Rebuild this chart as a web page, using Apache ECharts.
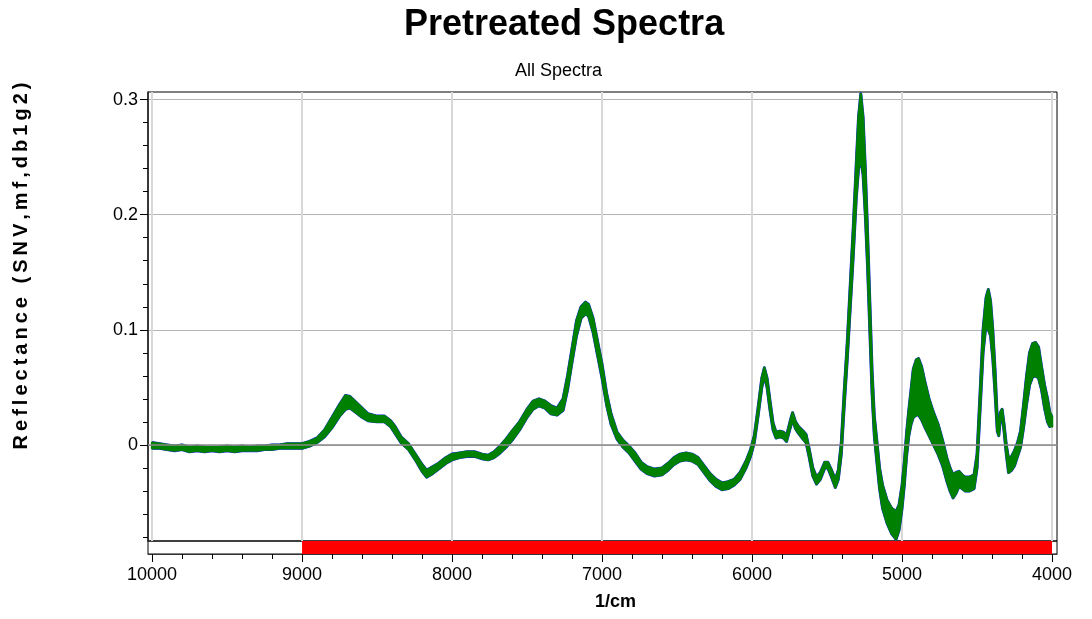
<!DOCTYPE html>
<html>
<head>
<meta charset="utf-8">
<script src="https://cdn.jsdelivr.net/npm/echarts@6/dist/echarts.min.js"></script>
<style>
html,body{margin:0;padding:0;background:#fff;}
#chart{width:1092px;height:619px;}
</style>
</head>
<body>
<div id="chart"></div>
<script>
// ---------- data ----------
const wavenumbers = [
  10000, 9950, 9900, 9850, 9800, 9750, 9700, 9650, 9600, 9550, 9500, 9450, 9400, 9350, 9300, 9250, 9200, 9150, 9100, 9050, 9000,
  8950, 8900, 8850, 8800, 8750, 8710, 8680, 8640, 8600, 8560, 8500, 8450, 8410, 8380, 8340, 8290, 8240, 8200, 8170, 8130, 8090, 8040, 8000,
  7950, 7900, 7850, 7800, 7760, 7720, 7680, 7640, 7600, 7550, 7500, 7460, 7420, 7380, 7340, 7300, 7260, 7230, 7200, 7170, 7140, 7110, 7090,
  7060, 7030, 7000, 6970, 6940, 6900, 6860, 6820, 6780, 6740, 6700, 6650, 6600, 6560, 6520, 6480, 6440, 6400, 6360, 6320, 6280, 6240, 6200,
  6160, 6120, 6080, 6040, 6010, 5985, 5960, 5935, 5918, 5900, 5880, 5860, 5840, 5815, 5790, 5770, 5745, 5730, 5710, 5690, 5660, 5640, 5620,
  5595, 5570, 5545, 5515, 5495, 5470, 5445, 5425, 5405, 5385, 5365, 5345, 5325, 5305, 5290, 5275, 5260, 5245, 5230, 5215, 5200, 5185, 5170,
  5150, 5130, 5100, 5070, 5040, 5020, 5000, 4985, 4970, 4955, 4940, 4925, 4905, 4890, 4870, 4850, 4820, 4790, 4760, 4730, 4700, 4680, 4660,
  4640, 4620, 4600, 4580, 4550, 4520, 4500, 4480, 4460, 4440, 4425, 4410, 4395, 4380, 4365, 4355, 4345, 4333, 4320, 4305, 4290, 4270, 4250,
  4230, 4210, 4190, 4170, 4150, 4130, 4110, 4090, 4070, 4050, 4030, 4015, 4008, 4000
];
const lowerSpectrum = [
  -0.003, -0.003, -0.004, -0.005, -0.004, -0.006, -0.005, -0.006, -0.005, -0.006, -0.005, -0.006, -0.005, -0.005, -0.005, -0.004, -0.004, -0.003, -0.003, -0.003, -0.003,
  -0.001, 0.002, 0.007, 0.015, 0.025, 0.031, 0.032, 0.028, 0.024, 0.021, 0.020, 0.020, 0.016, 0.010, 0.002, -0.004, -0.014, -0.023, -0.028, -0.025, -0.021, -0.016, -0.013,
  -0.011, -0.010, -0.010, -0.012, -0.013, -0.011, -0.007, -0.002, 0.004, 0.013, 0.024, 0.031, 0.034, 0.032, 0.027, 0.026, 0.030, 0.048, 0.072, 0.095, 0.110, 0.114, 0.112,
  0.098, 0.078, 0.058, 0.035, 0.018, 0.005, -0.002, -0.007, -0.014, -0.021, -0.025, -0.027, -0.026, -0.022, -0.017, -0.014, -0.013, -0.014, -0.017, -0.024, -0.031, -0.036, -0.039,
  -0.038, -0.035, -0.030, -0.020, -0.010, 0.002, 0.025, 0.050, 0.060, 0.050, 0.030, 0.013, 0.006, 0.007, 0.006, 0.003, 0.015, 0.022, 0.014, 0.010, 0.005, 0.002, -0.010,
  -0.027, -0.034, -0.030, -0.020, -0.020, -0.028, -0.037, -0.030, -0.008, 0.035, 0.075, 0.120, 0.165, 0.215, 0.240, 0.248, 0.235, 0.200, 0.155, 0.100, 0.045, 0.008, -0.012,
  -0.038, -0.055, -0.068, -0.077, -0.082, -0.074, -0.055, -0.035, -0.010, 0.008, 0.018, 0.024, 0.026, 0.026, 0.022, 0.016, 0.008, 0.000, -0.008, -0.018, -0.032, -0.040, -0.046,
  -0.042, -0.036, -0.038, -0.040, -0.040, -0.038, -0.020, 0.030, 0.080, 0.105, 0.100, 0.095, 0.075, 0.045, 0.012, 0.008, 0.022, 0.026, 0.012, -0.008, -0.024, -0.022, -0.018,
  -0.010, -0.002, 0.015, 0.035, 0.052, 0.059, 0.060, 0.058, 0.048, 0.032, 0.020, 0.016, 0.018, 0.016
];
const upperSpectrum = [
  0.002, 0.001, 0.000, -0.001, 0.000, -0.002, -0.001, -0.002, -0.002, -0.002, -0.001, -0.002, -0.001, -0.002, -0.001, -0.001, 0.000, 0.000, 0.001, 0.001, 0.001,
  0.003, 0.006, 0.013, 0.024, 0.035, 0.043, 0.042, 0.037, 0.032, 0.027, 0.025, 0.025, 0.021, 0.016, 0.007, 0.001, -0.009, -0.017, -0.022, -0.019, -0.016, -0.011, -0.008,
  -0.007, -0.006, -0.006, -0.008, -0.009, -0.006, -0.001, 0.005, 0.012, 0.020, 0.031, 0.038, 0.040, 0.038, 0.034, 0.032, 0.040, 0.060, 0.084, 0.108, 0.120, 0.124, 0.122,
  0.110, 0.090, 0.070, 0.045, 0.027, 0.011, 0.004, -0.001, -0.007, -0.015, -0.019, -0.021, -0.020, -0.016, -0.011, -0.008, -0.007, -0.008, -0.011, -0.018, -0.025, -0.030, -0.033,
  -0.032, -0.030, -0.024, -0.014, -0.004, 0.008, 0.032, 0.058, 0.067, 0.058, 0.038, 0.019, 0.011, 0.012, 0.011, 0.008, 0.021, 0.028, 0.020, 0.016, 0.012, 0.009, -0.003,
  -0.020, -0.028, -0.024, -0.015, -0.015, -0.022, -0.030, -0.022, 0.002, 0.048, 0.090, 0.140, 0.190, 0.245, 0.285, 0.305, 0.285, 0.240, 0.185, 0.125, 0.065, 0.025, 0.006,
  -0.020, -0.035, -0.048, -0.055, -0.058, -0.052, -0.035, -0.015, 0.010, 0.030, 0.048, 0.066, 0.074, 0.075, 0.068, 0.056, 0.040, 0.028, 0.018, 0.004, -0.012, -0.020, -0.026,
  -0.024, -0.023, -0.026, -0.028, -0.028, -0.026, -0.008, 0.045, 0.100, 0.128, 0.135, 0.125, 0.100, 0.065, 0.022, 0.014, 0.028, 0.031, 0.018, 0.000, -0.012, -0.010, -0.005,
  0.002, 0.012, 0.035, 0.060, 0.080, 0.088, 0.089, 0.085, 0.068, 0.052, 0.040, 0.028, 0.027, 0.024
];
const xMajorTicks = [4000, 5000, 6000, 7000, 8000, 9000, 10000];
const xMinorTicks = [4200, 4400, 4600, 4800, 5200, 5400, 5600, 5800, 6200, 6400, 6600, 6800, 7200, 7400, 7600, 7800, 8200, 8400, 8600, 8800, 9200, 9400, 9600, 9800];
const yMajorTicks = [0, 0.1, 0.2, 0.3];
const yMinorTicks = [-0.08, -0.06, -0.04, -0.02, 0.02, 0.04, 0.06, 0.08, 0.12, 0.14, 0.16, 0.18, 0.22, 0.24, 0.26, 0.28];
const selectedRange = [9000, 4000];   // red bar under the plot
const xRange = [3967, 10027];
const yRange = [-0.0835, 0.3066];

// ---------- chart ----------
const FONT = '"Liberation Sans", Arial, Helvetica, sans-serif';
const yTitle = 'Reflectance (SNV,mf,db1g2)'.split('').join('\u2009');

const toPairs = vals => wavenumbers.map((w, i) => [w, vals[i]]);

const mainGrid = {left: 148, right: 35, top: 92, bottom: 78};
const stripGrid = {left: 148, right: 35, top: 541, bottom: 65};

const lineCommon = {
  type: 'line', xAxisIndex: 0, yAxisIndex: 0, showSymbol: false, symbol: 'none',
  smooth: false, silent: true, animation: false
};

// green band between the lowest and highest spectrum, placed through the axes
function renderBand(params, api) {
  const pts = [];
  for (let i = 0; i < wavenumbers.length; i++) pts.push(api.coord([wavenumbers[i], upperSpectrum[i]]));
  for (let i = wavenumbers.length - 1; i >= 0; i--) pts.push(api.coord([wavenumbers[i], lowerSpectrum[i]]));
  return {
    type: 'polygon',
    shape: {points: pts},
    style: {fill: '#008000', stroke: '#008000', lineWidth: 2.4, lineJoin: 'round'}
  };
}

const option = {
  backgroundColor: '#fff',
  animation: false,
  title: [
    {text: 'Pretreated Spectra', left: 399, top: 2,
     textStyle: {fontSize: 36, fontWeight: 'bold', color: '#000', fontFamily: FONT}},
    {text: 'All Spectra', left: 510, top: 57,
     textStyle: {fontSize: 18, fontWeight: 'normal', color: '#000', fontFamily: FONT}}
  ],
  graphic: [
    {type: 'text', x: 21, y: 266, rotation: Math.PI / 2, silent: true,
     style: {text: yTitle, fill: '#000', font: 'bold 20px ' + FONT, align: 'center', verticalAlign: 'middle'}}
  ],
  grid: [
    Object.assign({show: true, borderColor: '#000', borderWidth: 1, backgroundColor: '#fff'}, mainGrid),
    Object.assign({show: true, borderColor: '#000', borderWidth: 1, backgroundColor: 'transparent'}, stripGrid),
    Object.assign({show: false}, mainGrid),
    Object.assign({show: false}, stripGrid)
  ],
  xAxis: [
    {type: 'value', gridIndex: 0, inverse: true, min: xRange[0], max: xRange[1],
     axisLine: {show: false}, axisLabel: {show: false},
     axisTick: {show: false, customValues: xMajorTicks},
     splitLine: {show: true, lineStyle: {color: '#d8d8d8', width: 2}}},
    {type: 'value', gridIndex: 1, inverse: true, min: xRange[0], max: xRange[1], position: 'bottom',
     axisLine: {show: true, lineStyle: {color: '#333', width: 1}},
     axisTick: {show: true, inside: false, length: 8, customValues: xMajorTicks, lineStyle: {color: '#000'}},
     axisLabel: {show: true, customValues: xMajorTicks, margin: 12, fontSize: 18, color: '#000', fontFamily: FONT,
                 formatter: v => String(v)},
     splitLine: {show: false},
     name: '1/cm', nameLocation: 'middle', nameGap: 39,
     nameTextStyle: {fontSize: 18, fontWeight: 'bold', color: '#000', fontFamily: FONT, padding: [0, 0, 0, 26]}},
    {type: 'value', gridIndex: 2, inverse: true, min: xRange[0], max: xRange[1], show: false},
    {type: 'value', gridIndex: 3, inverse: true, min: xRange[0], max: xRange[1], position: 'bottom',
     axisLine: {show: false}, axisLabel: {show: false}, splitLine: {show: false},
     axisTick: {show: true, inside: false, length: 5, customValues: xMinorTicks, lineStyle: {color: '#000'}}}
  ],
  yAxis: [
    {type: 'value', gridIndex: 0, min: yRange[0], max: yRange[1], position: 'left',
     axisLine: {show: true, lineStyle: {color: '#222', width: 1.5}},
     axisTick: {show: true, inside: false, length: 8, customValues: yMajorTicks, lineStyle: {color: '#000'}},
     axisLabel: {show: true, customValues: yMajorTicks, margin: 10, fontSize: 18, color: '#000', fontFamily: FONT,
                 formatter: v => String(v)},
     splitLine: {show: true, lineStyle: {color: '#b4b4b4', width: 1}}},
    {type: 'value', gridIndex: 1, min: 0, max: 1, show: false},
    {type: 'value', gridIndex: 2, min: yRange[0], max: yRange[1], position: 'left',
     axisLine: {show: false}, axisLabel: {show: false}, splitLine: {show: false},
     axisTick: {show: true, inside: false, length: 5, customValues: yMinorTicks, lineStyle: {color: '#000'}}},
    {type: 'value', gridIndex: 3, min: 0, max: 1, show: false}
  ],
  series: [
    {type: 'line', xAxisIndex: 0, yAxisIndex: 0, data: [], silent: true, z: 1,
     markLine: {silent: true, symbol: 'none', label: {show: false},
                lineStyle: {color: '#8a8a8a', width: 1.5, type: 'solid'},
                data: [{yAxis: 0}]}},
    Object.assign({}, lineCommon, {name: 'max', data: toPairs(upperSpectrum), z: 2,
      lineStyle: {color: '#1a1aff', width: 3.0, join: 'round'}}),
    Object.assign({}, lineCommon, {name: 'min', data: toPairs(lowerSpectrum), z: 2,
      lineStyle: {color: '#1a1aff', width: 3.0, join: 'round'}}),
    {type: 'custom', name: 'All Spectra', coordinateSystem: 'cartesian2d', xAxisIndex: 0, yAxisIndex: 0,
     data: [[wavenumbers[0], upperSpectrum[0]]], encode: {x: 0, y: 1}, silent: true, z: 3,
     renderItem: renderBand},
    {type: 'line', xAxisIndex: 1, yAxisIndex: 1, data: [[selectedRange[0], 0.5]], symbol: 'none', silent: true,
     lineStyle: {opacity: 0}, z: 1,
     markArea: {silent: true, itemStyle: {color: '#ff0000', borderWidth: 0},
                data: [[{xAxis: selectedRange[0], yAxis: 0}, {xAxis: selectedRange[1], yAxis: 1}]]}}
  ]
};

const chart = echarts.init(document.getElementById('chart'), null, {renderer: 'canvas'});
chart.setOption(option);
</script>
</body>
</html>
